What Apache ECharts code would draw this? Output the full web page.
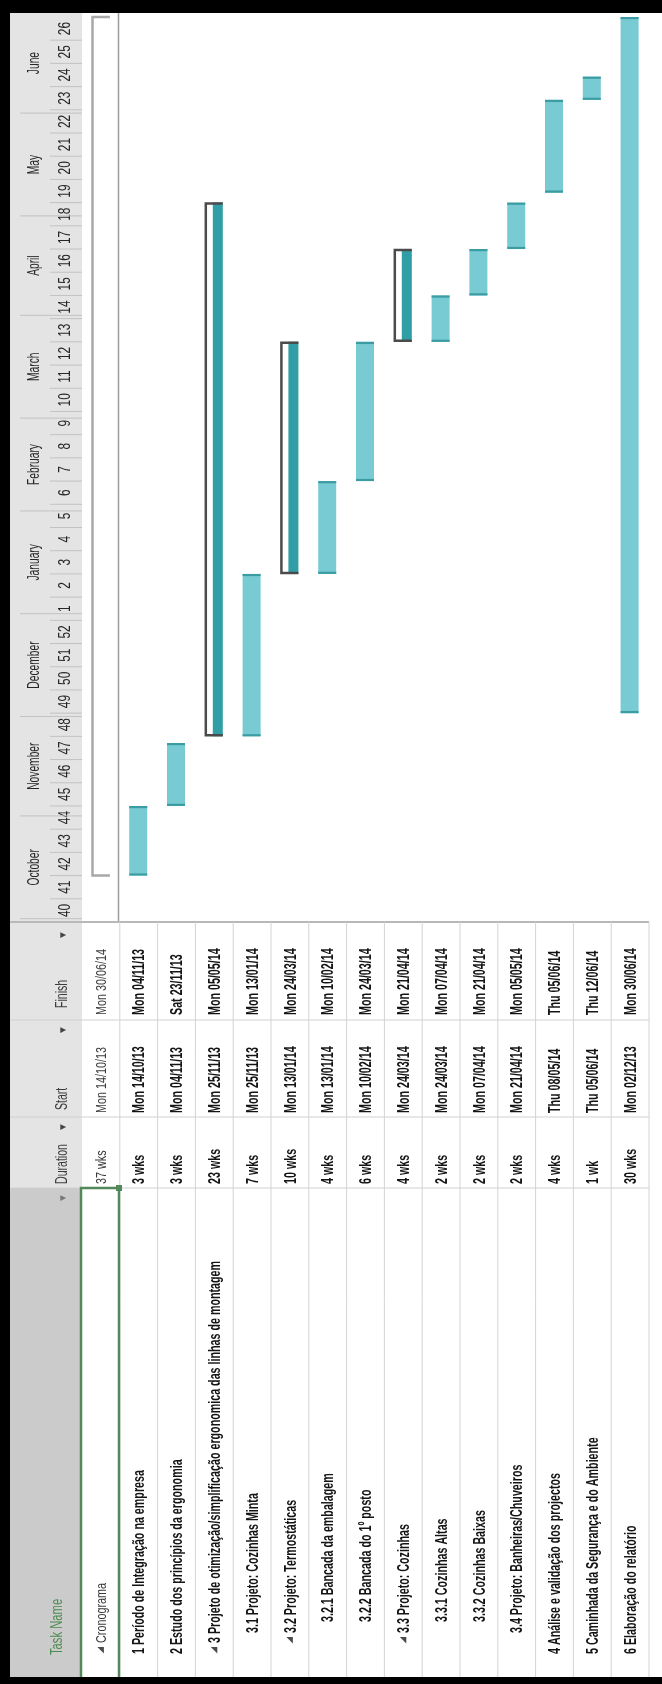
<!DOCTYPE html>
<html>
<head>
<meta charset="utf-8">
<title>Cronograma</title>
<script src="https://cdn.jsdelivr.net/npm/echarts@6.0.0/dist/echarts.min.js"></script>
<style>
  html, body { margin: 0; padding: 0; background: #fff; }
  #chart { width: 662px; height: 1684px; }
</style>
</head>
<body>
<div id="chart"></div>
<script>
// rows of the project table (picture is rotated: rows run left->right, time runs bottom->top)
var taskNames = [
  'Cronograma',
  '1 Período de Integração na empresa',
  '2 Estudo dos princípios da ergonomia',
  '3 Projeto de otimização/simplificação ergonomica das linhas de montagem',
  '3.1 Projeto: Cozinhas Minta',
  '3.2 Projeto: Termostáticas',
  '3.2.1 Bancada da embalagem',
  '3.2.2 Bancada do 1º posto',
  '3.3 Projeto: Cozinhas',
  '3.3.1 Cozinhas Altas',
  '3.3.2 Cozinhas Baixas',
  '3.4 Projeto: Banheiras/Chuveiros',
  '4 Análise e validação dos projectos',
  '5 Caminhada da Segurança e do Ambiente',
  '6 Elaboração do relatório'
];
var outlineLevels = [0, 1, 1, 1, 2, 2, 3, 3, 2, 3, 3, 2, 1, 1, 1];
var taskKinds = ['project', 'task', 'task', 'summary', 'task', 'summary', 'task', 'task',
  'summary', 'task', 'task', 'task', 'task', 'task', 'task'];
var durations = ['37 wks', '3 wks', '3 wks', '23 wks', '7 wks', '10 wks', '4 wks', '6 wks',
  '4 wks', '2 wks', '2 wks', '2 wks', '4 wks', '1 wk', '30 wks'];
var startDates = ['Mon 14/10/13', 'Mon 14/10/13', 'Mon 04/11/13', 'Mon 25/11/13', 'Mon 25/11/13',
  'Mon 13/01/14', 'Mon 13/01/14', 'Mon 10/02/14', 'Mon 24/03/14', 'Mon 24/03/14', 'Mon 07/04/14',
  'Mon 21/04/14', 'Thu 08/05/14', 'Thu 05/06/14', 'Mon 02/12/13'];
var finishDates = ['Mon 30/06/14', 'Mon 04/11/13', 'Sat 23/11/13', 'Mon 05/05/14', 'Mon 13/01/14',
  'Mon 24/03/14', 'Mon 10/02/14', 'Mon 24/03/14', 'Mon 21/04/14', 'Mon 07/04/14', 'Mon 21/04/14',
  'Mon 05/05/14', 'Thu 05/06/14', 'Thu 12/06/14', 'Mon 30/06/14'];

// timescale tiers
var weekLabels = [40, 41, 42, 43, 44, 45, 46, 47, 48, 49, 50, 51, 52,
  1, 2, 3, 4, 5, 6, 7, 8, 9, 10, 11, 12, 13, 14, 15, 16, 17, 18, 19, 20, 21, 22, 23, 24, 25, 26];
var monthNames = ['October', 'November', 'December', 'January', 'February', 'March', 'April', 'May', 'June'];
var monthStarts = ['01/10/13', '01/11/13', '01/12/13', '01/01/14', '01/02/14', '01/03/14',
  '01/04/14', '01/05/14', '01/06/14'];

var FONT = '"Liberation Sans", Arial, sans-serif';
var ORIGIN = Date.UTC(2013, 8, 30); // monday of week 40 = bottom of the timescale
var AXIS_MAX = 274.2;               // days shown up to the top edge
var TABLE_TOP = 922, TABLE_BOTTOM = 1677, TABLE_RIGHT = 649;
var NAME_BASE = 1654;
var INDENT = [0, 0, 21, 32];

function toDay(label) {
  var p = label.split(' ').pop().split('/');
  return (Date.UTC(2000 + Number(p[2]), Number(p[1]) - 1, Number(p[0])) - ORIGIN) / 864e5;
}

// text that reads bottom -> top
function vtext(text, x, y, size, color, align, squeeze, weight) {
  return {
    type: 'text', x: x, y: y, rotation: Math.PI / 2, scaleX: squeeze || 0.75,
    style: {
      text: text, fill: color, fontSize: size, fontFamily: FONT,
      fontWeight: weight || 'normal', align: align || 'left', verticalAlign: 'middle'
    }
  };
}

function hline(y, x1, x2, color, w) {
  return { type: 'line', shape: { x1: x1, y1: y, x2: x2, y2: y }, style: { stroke: color, lineWidth: w || 1 } };
}

function vline(x, y1, y2, color, w) {
  return { type: 'line', shape: { x1: x, y1: y1, x2: x, y2: y2 }, style: { stroke: color, lineWidth: w || 1 } };
}

var weekData = weekLabels.map(function (w, i) { return [0, i * 7, w]; });
var monthData = monthNames.map(function (m, i) {
  var end = i + 1 < monthStarts.length ? toDay(monthStarts[i + 1]) : AXIS_MAX;
  return [0, toDay(monthStarts[i]), end, m];
});
var barData = taskNames.map(function (n, i) { return [i, toDay(startDates[i]), toDay(finishDates[i])]; });
var rowData = taskNames.map(function (n, i) { return [i, 0]; });

function renderWeek(params, api) {
  var lo = api.coord([0, api.value(1)])[1];
  var hi = api.coord([0, Math.min(api.value(1) + 7, AXIS_MAX)])[1];
  var kids = [vtext(String(api.value(2)), 65, (lo + hi) / 2, 17, '#262626', 'center', 0.7)];
  if (params.dataIndex > 0) kids.push(hline(lo, 50, 82, '#c2c2c2'));
  return { type: 'group', children: kids };
}

function renderMonth(params, api) {
  var lo = api.coord([0, api.value(1)])[1];
  var hi = api.coord([0, api.value(2)])[1];
  return {
    type: 'group',
    children: [
      hline(lo, 20, 82, '#c2c2c2'),
      vtext(api.value(3), 35, (lo + hi) / 2, 16, '#262626', 'center', 0.64)
    ]
  };
}

function renderBar(params, api) {
  var i = api.value(0);
  var a = api.coord([i, api.value(1)]);
  var b = api.coord([i, api.value(2)]);
  var cx = a[0], yb = a[1], yt = b[1];
  var kind = taskKinds[i];
  var kids = [];
  if (kind === 'project') {
    kids.push({ type: 'polyline', shape: { points: [[cx + 9, yt], [cx - 8.4, yt], [cx - 8.4, yb], [cx + 9, yb]] },
      style: { fill: null, stroke: '#a8a8a8', lineWidth: 2.5 } });
  } else if (kind === 'summary') {
    kids.push({ type: 'rect', shape: { x: cx - 1.5, y: yt, width: 10, height: yb - yt }, style: { fill: '#2f9ea6' } });
    kids.push({ type: 'polyline', shape: { points: [[cx + 8.5, yt + 1], [cx - 8.5, yt + 1], [cx - 8.5, yb - 1], [cx + 8.5, yb - 1]] },
      style: { fill: null, stroke: '#4b4b4b', lineWidth: 2.5 } });
  } else {
    kids.push({ type: 'rect', shape: { x: cx - 9.5, y: yt, width: 18, height: yb - yt }, style: { fill: '#79cbd3' } });
    kids.push({ type: 'rect', shape: { x: cx - 9.5, y: yt, width: 18, height: 2.2 }, style: { fill: '#3b9ca4' } });
    kids.push({ type: 'rect', shape: { x: cx - 9.5, y: yb - 2.2, width: 18, height: 2.2 }, style: { fill: '#3b9ca4' } });
  }
  return { type: 'group', children: kids };
}

function renderRow(params, api) {
  var i = params.dataIndex;
  var cx = api.coord([i, 0])[0];
  var half = api.size([1, 0])[0] / 2;
  var proj = taskKinds[i] === 'project';
  var size = proj ? 15 : 17;
  var color = proj ? '#3a3a3a' : '#141414';
  var sq = proj ? 0.72 : 0.63;
  var weight = proj ? 'normal' : 'bold';
  var lvl = outlineLevels[i];
  var start = NAME_BASE - INDENT[lvl];
  if (taskKinds[i] !== 'task' && lvl < 2) start -= 11;
  var kids = [
    vline(cx + half, TABLE_TOP, TABLE_BOTTOM, '#d3d3d3'),
    vtext(finishDates[i], cx + 1, 1015, size, color, 'left', sq, weight),
    vtext(startDates[i], cx + 1, 1113, size, color, 'left', sq, weight),
    vtext(durations[i], cx + 1, 1184, size, color, 'left', sq, weight),
    vtext(taskNames[i], cx + 1, start, size, color, 'left', sq, weight)
  ];
  if (taskKinds[i] !== 'task') {
    var ty = start + 7;
    kids.push({ type: 'polygon', shape: { points: [[cx - 3.5, ty - 3], [cx + 3, ty - 3], [cx + 3, ty + 3.5]] },
      style: { fill: '#4a4a4a' } });
  }
  return { type: 'group', children: kids };
}

var chart = echarts.init(document.getElementById('chart'));

chart.setOption({
  animation: false,
  grid: { left: 82, right: 662 - TABLE_RIGHT, top: 13, bottom: 1684 - TABLE_TOP },
  xAxis: { type: 'category', data: taskNames, show: false },
  yAxis: { type: 'value', min: 0, max: AXIS_MAX, show: false },
  graphic: {
    elements: [
      { type: 'rect', shape: { x: 10, y: 13, width: 72, height: 1664 }, style: { fill: '#e4e4e4' } },
      { type: 'rect', shape: { x: 10, y: 1188, width: 72, height: 489 }, style: { fill: '#cbcbcb' } },
      vline(118.5, 13, TABLE_TOP, '#9d9d9d', 1.5),
      hline(TABLE_TOP, 10, TABLE_RIGHT, '#b8b8b8', 2),
      hline(1020, 10, TABLE_RIGHT, '#d0d0d0'),
      hline(1117, 10, TABLE_RIGHT, '#d0d0d0'),
      hline(1188, 10, TABLE_RIGHT, '#d0d0d0'),
      vtext('▼', 63, 935, 10, '#444', 'center', 1),
      vtext('Finish', 63, 1008, 16, '#3c3c3c', 'left', 0.66),
      vtext('▼', 63, 1030, 10, '#444', 'center', 1),
      vtext('Start', 63, 1110, 16, '#3c3c3c', 'left', 0.66),
      vtext('▼', 63, 1127, 10, '#444', 'center', 1),
      vtext('Duration', 63, 1184, 16, '#3c3c3c', 'left', 0.66),
      vtext('▼', 63, 1198, 10, '#777', 'center', 1),
      vtext('Task Name', 57, 1655, 17, '#4b8b4f', 'left', 0.66),
      { type: 'polyline', z: 50, shape: { points: [[81, 1677], [81, 1188], [119, 1188], [119, 1677]] },
        style: { fill: null, stroke: '#52885a', lineWidth: 2.5 } },
      { type: 'rect', z: 51, shape: { x: 116, y: 1185, width: 6, height: 6 }, style: { fill: '#52885a' } },
      { type: 'rect', z: 60, shape: { x: 0, y: 0, width: 662, height: 13 }, style: { fill: '#000' } },
      { type: 'rect', z: 60, shape: { x: 0, y: 0, width: 10, height: 1684 }, style: { fill: '#000' } },
      { type: 'rect', z: 60, shape: { x: 0, y: 1677, width: 662, height: 7 }, style: { fill: '#000' } }
    ]
  },
  series: [
    { type: 'custom', name: 'weeks', renderItem: renderWeek, data: weekData, silent: true },
    { type: 'custom', name: 'months', renderItem: renderMonth, data: monthData, silent: true },
    { type: 'custom', name: 'tasks', renderItem: renderBar, data: barData, encode: { x: 0, y: [1, 2] } },
    { type: 'custom', name: 'table', renderItem: renderRow, data: rowData, silent: true }
  ]
});
</script>
</body>
</html>
